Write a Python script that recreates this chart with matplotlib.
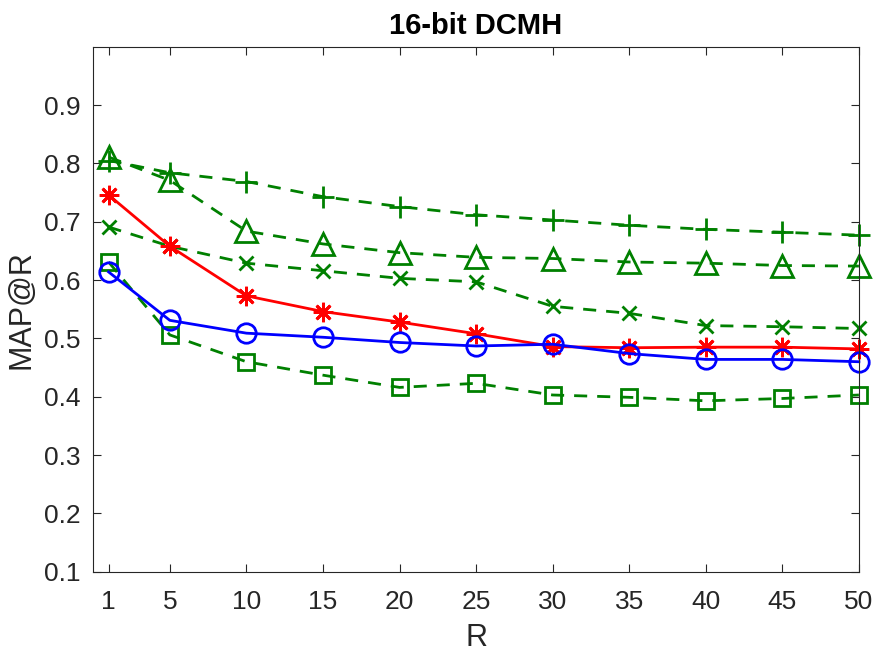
import matplotlib.pyplot as plt

plt.rcParams['font.family'] = ['Liberation Sans', 'DejaVu Sans']

# данные
R = [1, 5, 10, 15, 20, 25, 30, 35, 40, 45, 50]
plus_vals = [0.805, 0.784, 0.769, 0.743, 0.726, 0.712, 0.703, 0.694, 0.687, 0.682, 0.677]
tri_vals = [0.811, 0.771, 0.684, 0.662, 0.647, 0.639, 0.637, 0.631, 0.629, 0.625, 0.624]
x_vals = [0.691, 0.658, 0.629, 0.616, 0.603, 0.597, 0.555, 0.543, 0.522, 0.520, 0.517]
sq_vals = [0.631, 0.506, 0.460, 0.437, 0.416, 0.423, 0.403, 0.399, 0.393, 0.397, 0.403]
star_vals = [0.746, 0.658, 0.573, 0.546, 0.528, 0.508, 0.486, 0.484, 0.485, 0.485, 0.482]
circ_vals = [0.614, 0.531, 0.509, 0.502, 0.493, 0.487, 0.490, 0.474, 0.464, 0.464, 0.460]
xticks = [1, 5, 10, 15, 20, 25, 30, 35, 40, 45, 50]
yticks = [0.1, 0.2, 0.3, 0.4, 0.5, 0.6, 0.7, 0.8, 0.9]

green = '#008000'
dash = (0, (4.7, 3.6))
txt = '#262626'

fig = plt.figure(figsize=(8.75, 6.57), dpi=100)
ax = fig.add_axes([0.1066, 0.1298, 0.875, 0.799])

common = dict(lw=2, mfc='none', mew=2, clip_on=False)
ax.plot(R, plus_vals, color=green, ls=dash, marker='+', ms=16, **common)
ax.plot(R, tri_vals, color=green, ls=dash, marker='^', ms=16, **common)
ax.plot(R, x_vals, color=green, ls=dash, marker='x', ms=10.5, **common)
ax.plot(R, sq_vals, color=green, ls=dash, marker='s', ms=11, **common)
ax.plot(R, star_vals, color='red', ls='-', marker=(8, 2, 0), ms=14, **common)
ax.plot(R, circ_vals, color='blue', ls='-', marker='o', ms=14, **common)

ax.set_xlim(0, 50)
ax.set_ylim(0.1, 1.0)
ax.set_xticks(xticks)
ax.set_yticks(yticks)
ax.set_yticklabels([f'{v:.1f}' for v in yticks])
ax.tick_params(direction='in', length=5.5, width=0.8, top=True, right=True,
               labelsize=19, colors=txt)
ax.tick_params(axis='x', pad=13)
ax.tick_params(axis='y', pad=9)
for s in ax.spines.values():
    s.set_color(txt)
    s.set_linewidth(0.8)

ax.set_xlabel('R', fontsize=22, color=txt, va='center')
ax.xaxis.set_label_coords(0.5, -0.126)
ax.set_ylabel('MAP@R', fontsize=22, color=txt, va='center')
ax.yaxis.set_label_coords(-0.094, 0.5)
ax.set_title('16-bit DCMH', fontsize=21, fontweight='bold', pad=9.5)

fig.savefig('out.png', dpi=100)
